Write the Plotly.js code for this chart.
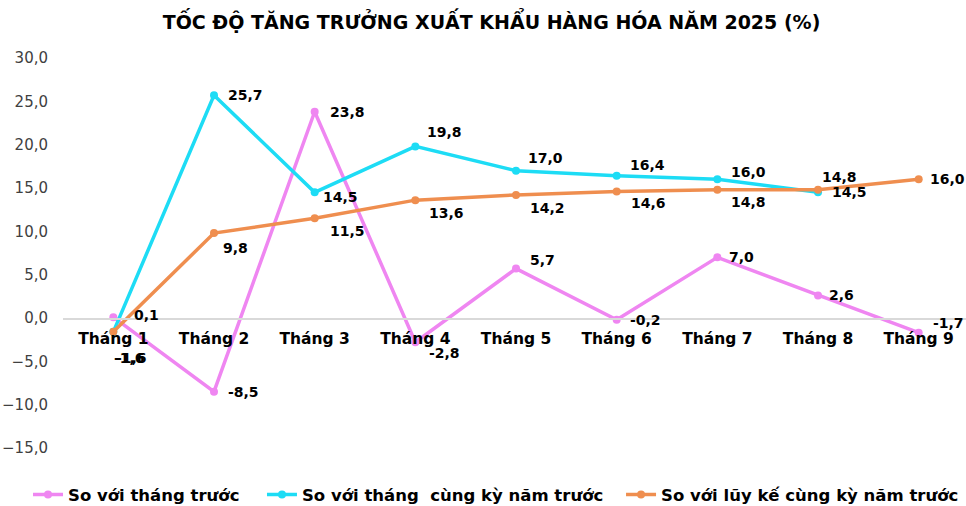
<!DOCTYPE html>
<html>
<head>
<meta charset="utf-8">
<script src="https://cdn.plot.ly/plotly-3.0.1.min.js"></script>
<style>html,body{margin:0;padding:0;background:#fff;}#chart{width:966px;height:506px;}</style>
</head>
<body>
<div id="chart"></div>
<script>
// ---- Data ----
var categories = ["Tháng 1","Tháng 2","Tháng 3","Tháng 4","Tháng 5","Tháng 6","Tháng 7","Tháng 8","Tháng 9"];
var seriesNames = ["So với tháng trước", "So với tháng\u00a0 cùng kỳ năm trước", "So với lũy kế cùng kỳ năm trước"];
var momValues = [0.1, -8.5, 23.8, -2.8, 5.7, -0.2, 7.0, 2.6, -1.7];
var yoyMonthValues = [-1.6, 25.7, 14.5, 19.8, 17.0, 16.4, 16.0, 14.5];
var ytdValues = [-1.6, 9.8, 11.5, 13.6, 14.2, 14.6, 14.8, 14.8, 16.0];
var yTickValues = [-15, -10, -5, 0, 5, 10, 15, 20, 25, 30];

// ---- Styles / label offsets (pixels) ----
var colors = ["#EF86F1", "#1DDCF5", "#EF8E4F"];
var legendIds = ["legend", "legend2", "legend3"];
var legendX = [0.029, 0.2712, 0.6429];
var labelShift = [
  [[20,2],[13,0],[14,0],[13,-11],[13,9],[12,0],[11,0],[10,0],[13,10]],
  [[0,-26],[13,0],[7,-5],[11,14],[11,13],[12,11],[13,7],[13,0]],
  [[2,-26],[8,-15],[14,-13],[13,-13],[13,-13],[13,-12],[13,-12],[3,13],[10,0]]
];
var allValues = [momValues, yoyMonthValues, ytdValues];

function fmt(v){ return v.toFixed(1).replace('.', ','); }

var traces = allValues.map(function(vals, s){
  return {
    type: 'scatter', mode: 'lines+markers',
    x: categories.slice(0, vals.length), y: vals,
    name: seriesNames[s],
    legend: legendIds[s],
    line: {color: colors[s], width: 3.5},
    marker: {color: colors[s], size: 8},
    hoverinfo: 'skip'
  };
});

var annotations = [];
allValues.forEach(function(vals, s){
  vals.forEach(function(v, i){
    annotations.push({
      x: categories[i], y: v, xref: 'x', yref: 'y',
      text: fmt(v), showarrow: false,
      xanchor: 'left', yanchor: 'middle',
      xshift: labelShift[s][i][0], yshift: labelShift[s][i][1],
      font: {family: 'DejaVu Sans', size: 14, color: '#000', weight: 'bold'},
      borderpad: 0
    });
  });
});

function legendAt(x){
  return {
    orientation: 'h', xref: 'container', yref: 'container',
    x: x, y: 0.057, xanchor: 'left', yanchor: 'top',
    font: {family: 'DejaVu Sans', size: 16.5, color: '#000', weight: 'bold'},
    itemwidth: 30, bgcolor: 'rgba(0,0,0,0)'
  };
}

var layout = {
  width: 966, height: 506,
  margin: {l: 63, r: 0, t: 58, b: 58},
  paper_bgcolor: '#fff', plot_bgcolor: '#fff',
  separators: ',.',
  showlegend: true,
  title: {
    text: 'TỐC ĐỘ TĂNG TRƯỞNG XUẤT KHẨU HÀNG HÓA NĂM 2025 (%)',
    font: {family: 'DejaVu Sans', size: 19, color: '#000', weight: 'bold'},
    xref: 'container', yref: 'container', x: 0.5088, y: 0.9565,
    xanchor: 'center', yanchor: 'middle'
  },
  xaxis: {
    type: 'category', range: [-0.5, 8.47],
    anchor: 'free', position: 15/45,
    showline: true, linecolor: '#d9d9d9', linewidth: 1.5,
    showgrid: false, zeroline: false, ticks: '',
    ticklabelstandoff: 6,
    tickfont: {family: 'DejaVu Sans', size: 15.5, color: '#000', weight: 'bold'}
  },
  yaxis: {
    range: [-15, 30], tickvals: yTickValues, tickformat: '.1f',
    showgrid: false, zeroline: false, showline: false, ticks: '',
    ticklabelstandoff: 14,
    tickfont: {family: 'DejaVu Sans', size: 15, color: '#404040'}
  },
  legend: legendAt(legendX[0]),
  legend2: legendAt(legendX[1]),
  legend3: legendAt(legendX[2]),
  annotations: annotations
};

Plotly.newPlot('chart', traces, layout, {displayModeBar: false, staticPlot: true});
</script>
</body>
</html>
